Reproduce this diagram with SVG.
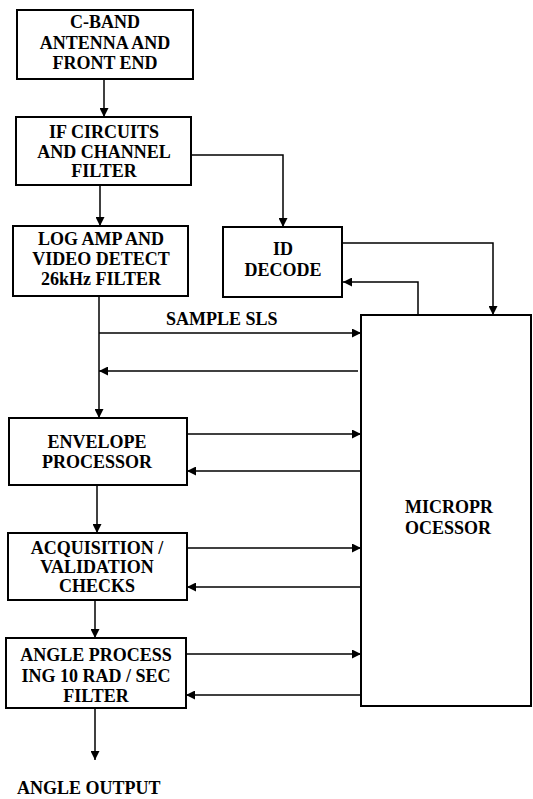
<svg xmlns="http://www.w3.org/2000/svg" width="533" height="799" viewBox="0 0 533 799">
<style>
.box{fill:#fff;stroke:#000;stroke-width:2}
.t{font-family:"Liberation Serif",serif;font-weight:bold;font-size:18px;fill:#000;text-anchor:middle}
.tl{font-family:"Liberation Serif",serif;font-weight:bold;font-size:18px;fill:#000}
.c{fill:none;stroke:#000;stroke-width:1.5}
</style>
<defs>
<marker id="ah" viewBox="0 0 10 10" refX="10" refY="5" markerWidth="9" markerHeight="9" markerUnits="userSpaceOnUse" orient="auto">
<path d="M0,0 L10,5 L0,10 z" fill="#000"/>
</marker>
</defs>
<g id="connectors">
<path class="c" d="M104,79 V117" marker-end="url(#ah)"/>
<path class="c" d="M100,185 V226" marker-end="url(#ah)"/>
<path class="c" d="M191,155 H283 V227" marker-end="url(#ah)"/>
<path class="c" d="M342,243 H493 V315" marker-end="url(#ah)"/>
<path class="c" d="M418,315 V282 H343" marker-end="url(#ah)"/>
<path class="c" d="M99,296 V418" marker-end="url(#ah)"/>
<path class="c" d="M99,333 H361" marker-end="url(#ah)"/>
<path class="c" d="M358,371 H99" marker-end="url(#ah)"/>
<path class="c" d="M187,434 H361" marker-end="url(#ah)"/>
<path class="c" d="M361,471 H187" marker-end="url(#ah)"/>
<path class="c" d="M97,485 V533" marker-end="url(#ah)"/>
<path class="c" d="M187,548 H361" marker-end="url(#ah)"/>
<path class="c" d="M361,587 H187" marker-end="url(#ah)"/>
<path class="c" d="M95,600 V638" marker-end="url(#ah)"/>
<path class="c" d="M186,654 H361" marker-end="url(#ah)"/>
<path class="c" d="M361,695 H186" marker-end="url(#ah)"/>
<path class="c" d="M95,708 V760" marker-end="url(#ah)"/>
<text class="tl" x="166" y="325">SAMPLE SLS</text>
<text class="tl" x="17" y="794">ANGLE OUTPUT</text>
</g>
<g id="cband">
<rect class="box" x="17" y="10" width="176" height="69"/>
<text class="t" x="105" y="28">C-BAND</text>
<text class="t" x="105" y="49">ANTENNA AND</text>
<text class="t" x="105" y="69">FRONT END</text>
</g>
<g id="ifcircuits">
<rect class="box" x="16" y="117" width="175" height="68"/>
<text class="t" x="104" y="138">IF CIRCUITS</text>
<text class="t" x="104" y="158">AND CHANNEL</text>
<text class="t" x="104" y="177">FILTER</text>
</g>
<g id="logamp">
<rect class="box" x="13" y="226" width="175" height="70"/>
<text class="t" x="101" y="245">LOG AMP AND</text>
<text class="t" x="101" y="265">VIDEO DETECT</text>
<text class="t" x="101" y="285">26kHz FILTER</text>
</g>
<g id="iddecode">
<rect class="box" x="223" y="227" width="119" height="70"/>
<text class="t" x="283" y="255">ID</text>
<text class="t" x="283" y="276">DECODE</text>
</g>
<g id="envelope">
<rect class="box" x="9" y="418" width="178" height="67"/>
<text class="t" x="97" y="448">ENVELOPE</text>
<text class="t" x="97" y="468">PROCESSOR</text>
</g>
<g id="acquisition">
<rect class="box" x="8" y="533" width="179" height="67"/>
<text class="t" x="97" y="554">ACQUISITION /</text>
<text class="t" x="97" y="573">VALIDATION</text>
<text class="t" x="97" y="592">CHECKS</text>
</g>
<g id="angle">
<rect class="box" x="6" y="638" width="180" height="70"/>
<text class="t" x="96" y="661">ANGLE PROCESS</text>
<text class="t" x="96" y="682">ING 10 RAD / SEC</text>
<text class="t" x="96" y="702">FILTER</text>
</g>
<g id="microprocessor">
<rect class="box" x="361" y="315" width="170" height="391"/>
<text class="tl" x="405" y="513">MICROPR</text>
<text class="tl" x="405" y="534">OCESSOR</text>
</g>
</svg>
